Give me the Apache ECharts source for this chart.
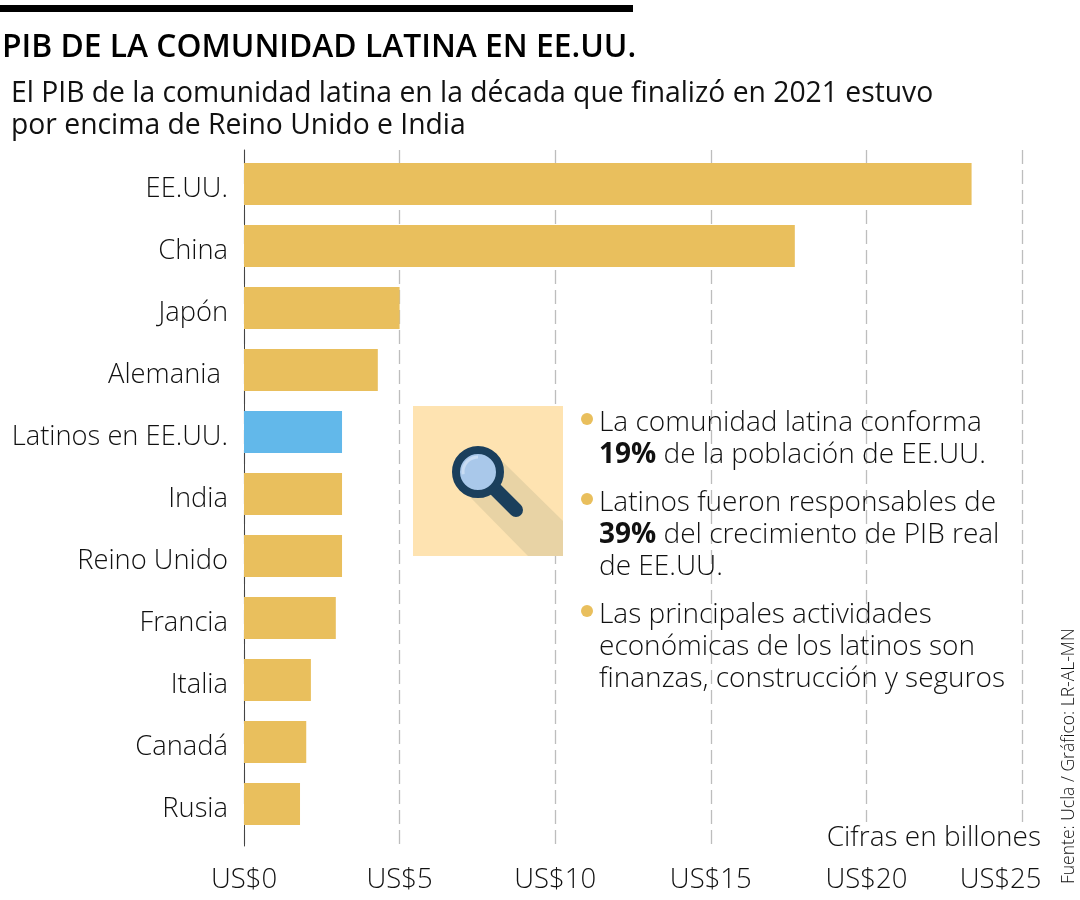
<!DOCTYPE html>
<html><head><meta charset="utf-8">
<style>html,body{margin:0;padding:0;background:#fff}#c{width:1080px;height:900px}</style>
<script src="https://cdn.jsdelivr.net/npm/echarts@6/dist/echarts.min.js"></script></head>
<body><div id="c"></div>
<script>
const categories = ['EE.UU.','China','Japón','Alemania ','Latinos en EE.UU.','India','Reino Unido','Francia','Italia','Canadá','Rusia'];
const values = [23.38,17.7,5.0,4.3,3.15,3.15,3.15,2.95,2.15,2.0,1.8];
const highlight = 'Latinos en EE.UU.';
const xTicks = [0,5,10,15,20,25];
const title = 'PIB DE LA COMUNIDAD LATINA EN EE.UU.';
const subtitle = ['El PIB de la comunidad latina en la década que finalizó en 2021 estuvo','por encima de Reino Unido e India'];
const notes = [
  {lines:['La comunidad latina conforma','{b|19%} de la población de EE.UU.'],y:421},
  {lines:['Latinos fueron responsables de','{b|39%} del crecimiento de PIB real','de EE.UU.'],y:501},
  {lines:['Las principales actividades','económicas de los latinos son','finanzas, construcción y seguros'],y:613}
];
const FF='"Open Sans"', INK='#111', GOLD='#e9bf5d', BLUE='#62b8ea';
const gfx=[];
const txt=(x,y,text,size,weight,extra)=>gfx.push(Object.assign({type:'text',x,y,z:20,style:Object.assign({text,fontFamily:FF,fontSize:size,fontWeight:weight,fill:INK,textVerticalAlign:'middle'},extra||{})}));
gfx.push({type:'rect',z:1,shape:{x:0,y:5,width:633,height:7},style:{fill:'#000'}});
txt(2,48,title,31.8,600,{fill:'#000'});
txt(11,94,subtitle[0],28.3,400);
txt(11,126,subtitle[1],28.3,400);
gfx.push({type:'rect',z:5,shape:{x:826,y:822,width:216,height:28},style:{fill:'#fff'}});
gfx.push({type:'rect',z:6,shape:{x:413,y:406,width:150,height:150},style:{fill:'#fee3b1'}});
gfx.push({type:'polygon',z:7,shape:{points:[[503,462],[563,521],[563,556],[528,556],[470,497]]},style:{fill:'#e8d3a5'}});
gfx.push({type:'line',z:8,shape:{x1:494,y1:488,x2:516,y2:510},style:{stroke:'#1b3f5c',lineWidth:14,lineCap:'round'}});
gfx.push({type:'circle',z:9,shape:{cx:478,cy:472,r:22},style:{fill:'#a9c8ea',stroke:'#1b3f5c',lineWidth:8}});
gfx.push({type:'arc',z:10,shape:{cx:478,cy:472,r:15,startAngle:Math.PI*0.95,endAngle:Math.PI*1.5},style:{fill:'none',stroke:'#c8dcf3',lineWidth:3}});
notes.forEach(n=>{
  gfx.push({type:'circle',z:20,shape:{cx:587,cy:n.y-2,r:6},style:{fill:GOLD}});
  n.lines.forEach((l,i)=>txt(599,n.y+2+i*32,l,28,300,{rich:{b:{fontFamily:FF,fontSize:28,fontWeight:700,fill:INK}}}));
});
txt(1041,838,'Cifras en billones',28,300,{textAlign:'right'});
gfx.push({type:'text',z:20,x:1069,y:884,rotation:Math.PI/2,style:{text:'Fuente: Ucla / Gráfico: LR-AL-MN',fontFamily:FF,fontSize:17.5,fontWeight:300,fill:INK,textAlign:'left',textVerticalAlign:'middle'}});

const chart=echarts.init(document.getElementById('c'),null,{renderer:'canvas'});
chart.setOption({
  animation:false,backgroundColor:'#fff',
  grid:[
    {left:244,top:150,width:778,height:696,outerBoundsMode:'none'},
    {left:244,top:153,width:778,height:682,outerBoundsMode:'none'}
  ],
  xAxis:[
    {gridIndex:0,type:'value',min:0,max:25,interval:5,
     axisLine:{show:false},axisTick:{show:false},
     splitLine:{show:true,lineStyle:{color:'#bdbdbd',width:1.3,type:[14,6]}},
     axisLabel:{margin:20,fontFamily:FF,fontSize:27.5,fontWeight:300,color:INK,hideOverlap:false,
       formatter:v=>'US$'+v+(v===25?'      ':''),customValues:xTicks}},
    {gridIndex:1,type:'value',min:0,max:25,show:false}
  ],
  yAxis:[
    {gridIndex:0,type:'category',data:[''],axisTick:{show:false},axisLabel:{show:false},axisLine:{show:true,lineStyle:{color:'#444',width:1}}},
    {gridIndex:1,type:'category',inverse:true,data:categories,axisTick:{show:false},axisLine:{show:false},
     axisLabel:{margin:16,fontFamily:FF,fontSize:27.3,fontWeight:300,color:INK,verticalAlign:'top',lineHeight:10}}
  ],
  series:[{type:'bar',xAxisIndex:1,yAxisIndex:1,barWidth:42,z:3,silent:true,
    data:values.map((v,i)=>({value:v,itemStyle:{color:categories[i]===highlight?BLUE:GOLD}}))}],
  graphic:{elements:gfx}
});
</script></body></html>
